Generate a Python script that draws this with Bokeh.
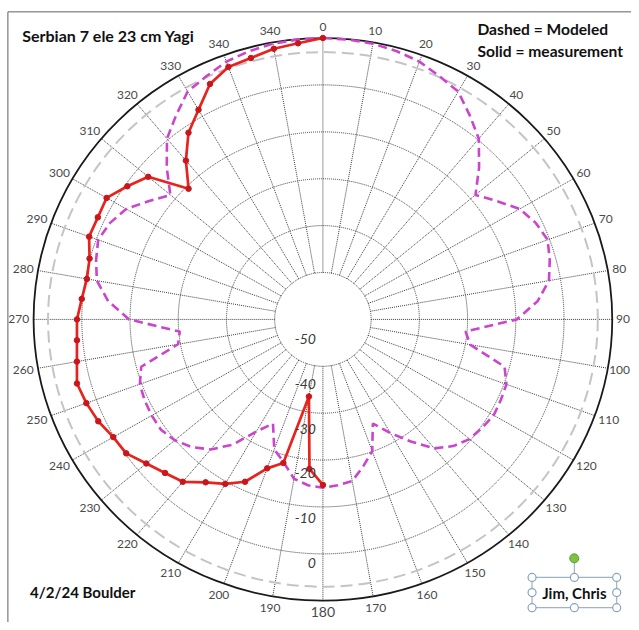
import numpy as np
from bokeh.plotting import figure
from bokeh.models import Range1d
from bokeh.core.properties import value
from bokeh.embed import file_html
from bokeh.resources import INLINE

# ---------------- data ----------------
measured_angles = [180, 185, 190, 195, 200, 205, 210, 215, 220, 225, 230, 235,
                   240, 245, 250, 255, 260, 265, 270, 275, 280, 285, 290, 295,
                   300, 305, 310, 315, 320, 325, 330, 335, 340, 345, 350, 355, 0]
measured_db = [-24.7, -28.0, -43.3, -28.3, -26.2, -21.8, -19.5, -17.6, -14.8, -13.7, -12.2, -10.2,
               -9.8, -8.6, -7.8, -7.2, -8.2, -8.8, -9.0, -9.8, -10.3, -9.9, -8.4, -8.5,
               -8.2, -10.5, -12.7, -20.6, -15.8, -11.4, -8.4, -4.6, -2.7, -2.3, -1.4, -0.9, 0.0]

modeled_angles = list(range(0, 360, 5))
modeled_db = [0.0, -0.1, -0.3, -0.8, -1.5, -2.8, -3.9, -6.9, -9.7, -14.2, -18.7, -16.0,
              -12.9, -11.3, -10.4, -11.3, -12.4, -15.3, -19.8, -30.3, -29.0, -21.0, -19.5, -19.3,
              -19.1, -19.7, -20.3, -21.8, -24.1, -28.2, -32.0, -35.5, -30.1, -27.6, -25.0, -24.5,
              -24.1, -24.5, -25.5, -28.5, -30.5, -35.5, -32.4, -27.4, -23.8, -21.5, -19.9, -19.0,
              -19.0, -19.2, -19.6, -21.0, -29.5, -30.2, -19.8, -15.3, -12.4, -11.3, -10.4, -11.3,
              -12.9, -16.0, -18.7, -14.2, -9.7, -6.9, -3.9, -2.8, -1.5, -0.8, -0.3, -0.1]

radial_ticks = [-50, -40, -30, -20, -10, 0]
radial_labels = ["-50", "-40", "-30", "-20", "-10", "0"]
r_min, r_max = -60, 0
half_power_db = -3

spoke_angles = list(range(0, 360, 10))
angle_labels = ["0", "10", "20", "30", "40", "50", "60", "70", "80", "90", "100", "110",
                "120", "130", "140", "150", "160", "170", "180", "190", "200", "210", "220", "230",
                "240", "250", "260", "270", "280", "290", "300", "310", "320", "330", "340", "340"]

title_text = "Serbian 7 ele 23 cm Yagi"
legend_lines = ["Dashed = Modeled", "Solid = measurement"]
date_text = "4/2/24 Boulder"
names_text = "Jim, Chris"

# ---------------- layout ----------------
W, H = 631, 622
IMG_W, IMG_H = 639.0, 630.0
kx, ky = W / IMG_W, H / IMG_H
CX, CY = 326.5 * kx, 323.0 * ky      # centre in frame pixels
RX, RY = 293.0 * kx, 285.0 * ky      # outer circle radii in pixels
span = r_max - r_min
sx, sy = RX / span, RY / span

p = figure(width=W, height=H, output_backend="svg", toolbar_location=None,
           x_range=Range1d(-CX / sx, (W - CX) / sx),
           y_range=Range1d(-(H - CY) / sy, CY / sy),
           min_border=0)
p.axis.visible = False
p.grid.visible = False
p.outline_line_color = None
p.background_fill_color = "white"
p.border_fill_color = "white"


def pol(db, ang):
    rho = np.asarray(db, dtype=float) - r_min
    t = np.radians(np.asarray(ang, dtype=float))
    return rho * np.sin(t), rho * np.cos(t)


def img(ix, iy):
    # reference-image pixel -> data coordinates
    return (ix * kx - CX) / sx, (CY - iy * ky) / sy


LATO = value("Lato")
DOT = "1 1"
GRID_C = "#3c3c3c"

# outer frame lines (top & left)
bx0, by0 = img(7.5, 11.5)
bx1, by1 = img(639, 630)
p.line([bx0, bx1], [by0, by0], line_color="#606060", line_width=1)
p.line([bx0, bx0], [by0, by1], line_color="#606060", line_width=1)

# dotted grid circles
for t in radial_ticks[:-1]:
    d = 2 * (t - r_min)
    p.ellipse(x=0, y=0, width=d, height=d, fill_color=None,
              line_color=GRID_C, line_width=1, line_dash=DOT)

# spokes
x0, y0 = pol([radial_ticks[0]] * len(spoke_angles), spoke_angles)
x1, y1 = pol([r_max] * len(spoke_angles), spoke_angles)
p.segment(x0, y0, x1, y1, line_color=GRID_C, line_width=1, line_dash=DOT)

# -3 dB circle
d3 = 2 * (half_power_db - r_min)
p.ellipse(x=0, y=0, width=d3, height=d3, fill_color=None,
          line_color="#c4c4c4", line_width=2, line_dash="12 6")

# outer circle
do = 2 * (r_max - r_min)
p.ellipse(x=0, y=0, width=do, height=do, fill_color=None,
          line_color="#1a1a1a", line_width=1.8)

# modeled (closed)
mx, my = pol(modeled_db + modeled_db[:1], modeled_angles + modeled_angles[:1])
p.line(mx, my, line_color="#cc44cc", line_width=2.6, line_dash="9 5")

# measured
ex, ey = pol(measured_db, measured_angles)
p.line(ex, ey, line_color="#e8231d", line_width=2.7)
p.scatter(ex, ey, size=5.5, marker="circle", fill_color="#c8161a", line_color="#c8161a")

# angle labels: computed in pixels outside the outer circle, kept inside the frame
th = np.radians(spoke_angles)
is180 = np.array([a == 180 for a in spoke_angles])
char_w = np.where(is180, 7.6, 6.6)
half_w = np.array([len(s) for s in angle_labels]) * char_w / 2
px_x = CX + RX * np.sin(th) + np.sin(th) * (5 + half_w)
px_y = CY - RY * np.cos(th) - np.cos(th) * 11.5
px_x = np.minimum(px_x, W - 2 - half_w)
px_x = np.maximum(px_x, 2 + half_w)
lab_x = (px_x - CX) / sx
lab_y = (CY - px_y) / sy
sizes = ["14px" if a == 180 else "12px" for a in spoke_angles]
p.text(x=lab_x, y=lab_y, text=angle_labels,
       text_font=LATO, text_font_size=sizes, text_color="#4a4a4a",
       text_align="center", text_baseline="middle")

# radial labels (placed just inside each circle on the 180 spoke)
rt = np.asarray(radial_ticks, dtype=float) - r_min
ry = -(rt * 0.956 - 5.4)
rx = np.full(len(rt), -7.0 / sx)
p.text(x=rx, y=ry, text=radial_labels, text_font=LATO, text_font_size="14px",
       text_font_style="italic", text_color="#3a3a3a",
       text_align="right", text_baseline="middle")

# annotation texts
tx, ty = img(22, 35)
p.text(x=[tx], y=[ty], text=[title_text], text_font=LATO, text_font_size="16px",
       text_font_style="bold", text_color="#111111", text_align="left", text_baseline="middle")
lgx, lgy0 = img(483, 29)
_, lgy1 = img(483, 51)
p.text(x=[lgx, lgx], y=[lgy0, lgy1], text=legend_lines, text_font=LATO, text_font_size="15.6px",
       text_font_style="bold", text_color="#111111", text_align="left", text_baseline="middle")
dx_, dy_ = img(30, 599)
p.text(x=[dx_], y=[dy_], text=[date_text], text_font=LATO, text_font_size="15px",
       text_font_style="bold", text_color="#111111", text_align="left", text_baseline="middle")

# selected text box with handles
bl, bt = img(538.3, 584.3)
br, bb = img(624, 615)
mxb = (bl + br) / 2
myb = (bt + bb) / 2
p.line([bl, br, br, bl, bl], [bt, bt, bb, bb, bt], line_color="#9fb3c6", line_width=1.2)
gx, gy = img(581, 565)
p.line([mxb, mxb], [gy, bt], line_color="#9fb3c6", line_width=1.2)
hx = [bl, mxb, br, bl, br, bl, mxb, br]
hy = [bt, bt, bt, myb, myb, bb, bb, bb]
p.scatter(hx, hy, size=8, marker="circle", fill_color="white", line_color="#8aa3bb", line_width=1.2)
p.scatter([gx], [gy], size=9, marker="circle", fill_color="#7ec242", line_color="#5f9a34", line_width=1)
p.text(x=[mxb], y=[myb], text=[names_text], text_font=LATO, text_font_size="15px",
       text_font_style="bold", text_color="#111111", text_align="center", text_baseline="middle")

open("out.html", "w").write(file_html(p, INLINE))
